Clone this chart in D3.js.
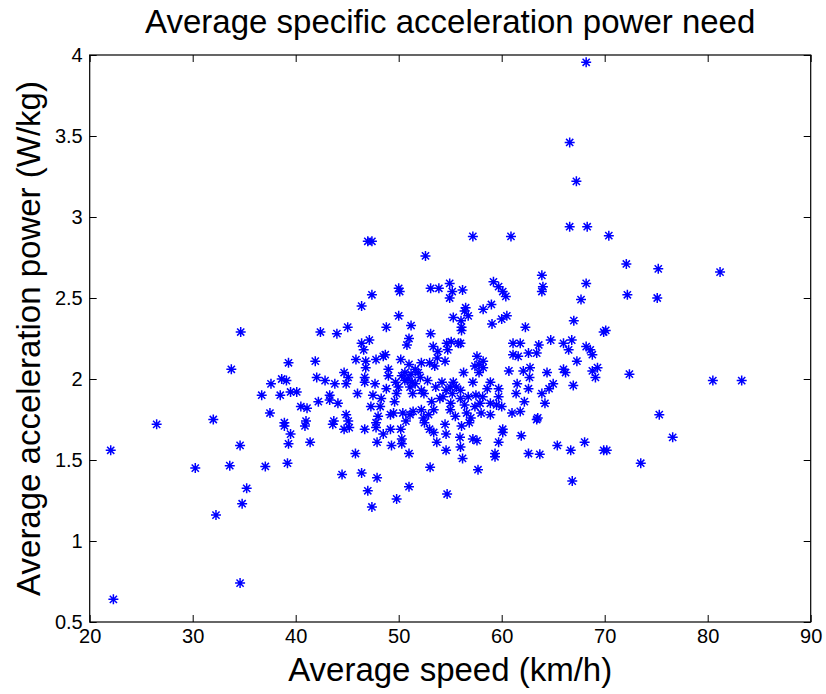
<!DOCTYPE html>
<html>
<head>
<meta charset="utf-8">
<script src="https://cdn.jsdelivr.net/npm/d3@7"></script>
<style>
  html, body { margin: 0; padding: 0; background: #fff; }
  text { font-family: "Liberation Sans", Arial, Helvetica, sans-serif; }
</style>
</head>
<body>
<svg id="chart" width="826" height="694"></svg>
<script>
// ---- Data ----
const speed = [
  47.0,47.4,57.2,60.9,66.6,66.6,68.2,67.25,68.3,70.4,
  72.1,75.2,81.2,68.2,67.7,72.2,75.1,67.0,69.9,70.1,
  66.0,66.8,66.5,68.2,68.6,68.8,67.3,66.0,66.2,68.8,
  69.3,69.1,66.95,72.4,80.5,83.3,75.3,65.4,66.7,68.05,
  69.9,70.2,66.85,73.5,76.6,
  34.66,42.4,33.75,39.3,41.9,38.64,39.1,37.6,36.7,38.5,
  39.5,40.1,42.04,42.85,43.3,40.5,41.1,42.2,37.5,26.5,
  32.0,38.9,38.9,41.0,40.9,
  39.5,39.3,41.4,34.6,22.04,30.25,33.6,37.05,39.2,35.24,
  34.8,32.26,34.6,22.3,
  43.6,44.7,45.2,46.7,47.8,47.8,48.5,49.2,47.9,49.3,
  50.3,50.3,50.7,51.0,52.5,53.0,53.4,53.7,54.5,54.6,
  54.6,56.1,55.95,56.0,56.2,56.85,57.2,57.6,57.7,59.35,
  59.35,59.7,60.1,61.9,62.6,63.7,45.8,44.5,46.4,47.9,
  47.0,51.0,49.8,47.4,53.05,54.7,63.4,
  52.6,63.9,64.0,63.9,59.2,59.7,60.1,60.4,54.95,55.2,
  54.95,56.2,53.1,53.9,50.0,50.1,47.4,46.4,50.0,56.5,
  56.4,56.75,58.2,59.0,60.5,60.0,59.06,55.3,56.05,56.1,
  56.1,62.3,44.0,45.05,48.8,51.2,53.1,47.15,46.4,46.6,
  51.0,50.8,53.35,53.8,54.66,55.1,55.8,56.0,54.76,53.75,
  54.5,53.0,52.2,53.5,61.1,61.8,61.1,61.6,62.6,63.4,
  63.6,64.76,57.6,58.2,57.8,57.4,58.2,57.8,56.3,57.2,
  58.9,60.7,62.1,62.75,62.7,64.4,61.5,62.6,65.0,64.6,
  63.9,64.2,61.4,62.2,59.7,59.7,58.9,59.5,60.0,61.0,
  61.8,63.5,58.15,57.9,57.5,56.75,57.4,58.0,58.9,60.1,
  55.3,55.6,55.0,54.6,55.2,54.3,54.0,55.05,55.0,55.5,
  56.6,53.4,52.4,52.2,51.4,51.1,50.4,49.5,49.2,48.2,
  47.3,47.5,46.0,44.1,43.3,43.7,44.9,45.1,43.8,44.9,
  44.7,45.1,45.85,46.8,46.8,46.7,46.7,47.7,47.8,48.5,
  48.7,50.2,49.0,49.0,49.7,49.97,51.0,51.6,52.1,51.1,
  51.35,52.2,52.45,48.8,49.8,50.3,50.6,51.2,51.3,51.9,
  50.9,50.2,50.6,51.6,52.8,53.6,54.2,56.0,56.4,57.0,
  53.2,48.3,49.6,56.0,58.6,48.0,52.9
];
const accelPower = [
  2.85,2.85,2.88,2.88,3.46,2.94,3.955,3.22,2.94,2.885,
  2.71,2.68,2.66,2.59,2.49,2.52,2.50,2.36,2.29,2.30,
  2.22,2.24,2.18,2.20,2.18,2.15,2.11,2.06,2.04,2.05,
  2.07,2.01,1.96,2.03,1.99,1.99,1.78,1.59,1.56,1.61,
  1.56,1.56,1.37,1.48,1.64,
  2.29,2.29,2.06,2.10,2.11,2.00,1.99,1.97,1.90,1.90,
  1.92,1.92,2.01,1.99,1.90,1.83,1.82,1.86,1.79,1.72,
  1.75,1.73,1.71,1.74,1.71,
  1.66,1.60,1.61,1.59,1.56,1.45,1.465,1.46,1.48,1.325,
  1.23,1.16,0.74,0.64,
  1.72,1.69,1.70,1.69,1.73,1.70,1.66,1.69,1.61,1.59,
  1.63,1.60,1.74,1.54,1.73,1.69,1.67,1.61,1.72,1.66,
  1.56,1.71,1.64,1.58,1.51,1.73,1.63,1.62,1.44,1.54,
  1.52,1.61,1.67,1.65,1.54,1.535,1.54,1.41,1.42,1.39,
  1.31,1.335,1.26,1.21,1.455,1.29,1.75,
  2.76,2.64,2.57,2.54,2.60,2.57,2.54,2.51,2.59,2.54,
  2.50,2.55,2.56,2.56,2.56,2.54,2.52,2.45,2.39,2.44,
  2.42,2.39,2.43,2.46,2.39,2.37,2.34,2.38,2.36,2.32,
  2.30,2.32,2.28,2.32,2.32,2.33,2.28,2.24,2.22,2.18,
  2.25,2.21,2.20,2.17,2.22,2.23,2.22,2.22,2.18,2.13,
  2.11,2.10,2.10,2.08,2.22,2.22,2.15,2.14,2.16,2.16,
  2.21,2.24,2.14,2.11,2.09,2.08,2.07,2.04,2.04,1.98,
  1.98,2.05,2.05,2.07,2.01,2.04,1.97,1.94,1.97,1.94,
  1.91,1.85,1.91,1.86,1.94,1.89,1.85,1.84,1.83,1.79,
  1.80,1.76,1.89,1.85,1.90,1.89,1.83,1.79,1.78,1.69,
  1.98,1.95,1.95,1.93,1.91,1.89,1.88,1.85,1.81,1.77,
  1.79,1.81,1.76,1.81,1.80,1.78,1.79,1.79,1.78,1.83,
  1.83,1.90,1.91,1.85,1.87,1.74,1.78,1.74,1.97,1.97,
  2.04,2.01,2.12,2.11,2.07,2.01,1.98,1.97,2.12,2.14,
  2.15,2.12,2.06,2.02,1.98,1.95,2.09,2.06,2.01,1.95,
  1.91,1.93,1.91,1.94,1.91,2.02,1.99,2.03,1.98,2.04,
  2.00,1.69,2.04,1.97,1.99,1.95,1.98,1.88,1.84,1.76,
  1.86,1.88,1.86,1.93,1.94,1.77,1.78
];
const xTicks = [20, 30, 40, 50, 60, 70, 80, 90];
const yTicks = [0.5, 1, 1.5, 2, 2.5, 3, 3.5, 4];
const titleText = "Average specific acceleration power need";
const xLabelText = "Average speed (km/h)";
const yLabelText = "Average acceleration power (W/kg)";

// ---- Layout ----
const plotL = 89.7, plotR = 810.7, plotT = 55, plotB = 622;
const svg = d3.select("#chart");

const x = d3.scaleLinear().domain([20, 90]).range([plotL, plotR]);
const y = d3.scaleLinear().domain([0.5, 4]).range([plotB, plotT]);

const points = speed.map((s, i) => ({ s, a: accelPower[i] }));

const tickLen = 7;
function styleAxis(g, labels) {
  g.select(".domain").remove();
  g.selectAll(".tick line").attr("stroke", "#000").attr("stroke-width", 1);
  g.selectAll(".tick text")
    .attr("fill", "#000")
    .style("font-size", "20px")
    .style("font-family", "'Liberation Sans', Arial, sans-serif");
  if (!labels) g.selectAll(".tick text").remove();
}

svg.append("g").attr("transform", `translate(0,${plotB})`)
  .call(d3.axisBottom(x).tickValues(xTicks).tickFormat(d3.format("d"))
    .tickSizeInner(-tickLen).tickSizeOuter(0).tickPadding(7))
  .call(g => styleAxis(g, true));
svg.append("g").attr("transform", `translate(0,${plotT})`)
  .call(d3.axisTop(x).tickValues(xTicks).tickSizeInner(-tickLen).tickSizeOuter(0))
  .call(g => styleAxis(g, false));
svg.append("g").attr("transform", `translate(${plotL},0)`)
  .call(d3.axisLeft(y).tickValues(yTicks).tickFormat(d => String(d))
    .tickSizeInner(-tickLen).tickSizeOuter(0).tickPadding(7))
  .call(g => styleAxis(g, true));
svg.append("g").attr("transform", `translate(${plotR},0)`)
  .call(d3.axisRight(y).tickValues(yTicks).tickSizeInner(-tickLen).tickSizeOuter(0))
  .call(g => styleAxis(g, false));

svg.append("rect")
  .attr("x", plotL).attr("y", plotT)
  .attr("width", plotR - plotL).attr("height", plotB - plotT)
  .attr("fill", "none").attr("stroke", "#000").attr("stroke-width", 1.2);

// Asterisk markers
const r = 5, dd = r * 0.72;
const star = `M${-r},0L${r},0M0,${-r}L0,${r}M${-dd},${-dd}L${dd},${dd}M${-dd},${dd}L${dd},${-dd}`;
svg.append("g")
  .selectAll("path")
  .data(points)
  .join("path")
  .attr("d", star)
  .attr("transform", p => `translate(${x(p.s)},${y(p.a)})`)
  .attr("fill", "none")
  .attr("stroke", "#0000ff")
  .attr("stroke-width", 1.5);

// Texts
svg.append("text")
  .attr("x", (plotL + plotR) / 2).attr("y", 33)
  .attr("text-anchor", "middle")
  .style("font-size", "33px").attr("fill", "#000")
  .text(titleText);

svg.append("text")
  .attr("x", (plotL + plotR) / 2).attr("y", 681)
  .attr("text-anchor", "middle")
  .style("font-size", "33px").attr("fill", "#000")
  .text(xLabelText);

svg.append("text")
  .attr("transform", `translate(40,${(plotT + plotB) / 2}) rotate(-90)`)
  .attr("text-anchor", "middle")
  .style("font-size", "33px").attr("fill", "#000")
  .text(yLabelText);
</script>
</body>
</html>
